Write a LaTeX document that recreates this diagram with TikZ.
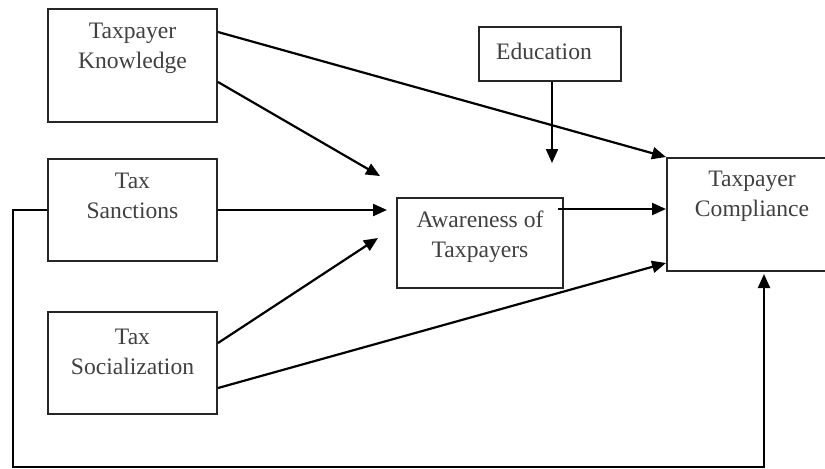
\documentclass[tikz,border=0pt]{standalone}
\usepackage{fontspec}
\setmainfont{Liberation Serif}
\usetikzlibrary{positioning,arrows.meta}

\begin{document}
\begin{tikzpicture}[
x=0.5pt,y=-0.5pt,
box/.style={rectangle,draw=black!85,line width=1pt,inner sep=0pt},
txt/.style={align=center,inner sep=0pt,text=black!75,font=\fontsize{11.8}{15}\selectfont},
arr/.style={draw=black,line width=1.1pt,-{Triangle[length=7pt,width=6pt]}}
]
\clip (0,0) rectangle (825,468);
% boxes
\node[box,minimum width=84.5pt,minimum height=56.5pt] (know) at (132.5,65.5) {};
\node[box,minimum width=84.5pt,minimum height=51pt] (sanc) at (132.5,210) {};
\node[box,minimum width=84.5pt,minimum height=51pt] (soc) at (132.5,363) {};
\node[box,minimum width=71pt,minimum height=27pt] (edu) at (550,54) {};
\node[box,minimum width=83pt,minimum height=45pt] (aware) at (480,243) {};
\node[box,minimum width=86.5pt,minimum height=56.5pt] (comp) at (753.5,214.5) {};
% labels
\node[txt] (know-t) at (132.5,48) {Taxpayer\\Knowledge};
\node[txt] (sanc-t) at (132.5,196) {Tax\\Sanctions};
\node[txt] (soc-t) at (132.5,352) {Tax\\Socialization};
\node[txt] (edu-t) at (544,51) {Education};
\node[txt] (aware-t) at (480,237) {Awareness of\\Taxpayers};
\node[txt] (comp-t) at (752,196) {Taxpayer\\Compliance};
% free ends
\coordinate (k-tip) at (380,176);
\coordinate (s-tip) at (387,210);
\coordinate (z-tip) at (378,238);
\coordinate (e-tip) at (552,163);
\coordinate (fb) at (13,467);
% arrows
\draw[arr] ([yshift=-12pt]know.north east) -- (comp.north west);
\draw[arr] ([yshift=-37pt]know.north east) -- (k-tip);
\draw[arr] ([xshift=1pt]edu.south) -- (e-tip);
\draw[arr] (sanc.east) -- (s-tip);
\draw[arr] ([xshift=-3pt,yshift=17pt]aware.east) -- ([yshift=2.75pt]comp.west);
\draw[arr] ([yshift=10pt]soc.east) -- (z-tip);
\draw[arr] ([yshift=-12.5pt]soc.east) -- ([yshift=4.5pt]comp.south west);
\draw[arr] (sanc.west) -| (fb) -| ([xshift=5.25pt,yshift=-1pt]comp.south);
\end{tikzpicture}
\end{document}
